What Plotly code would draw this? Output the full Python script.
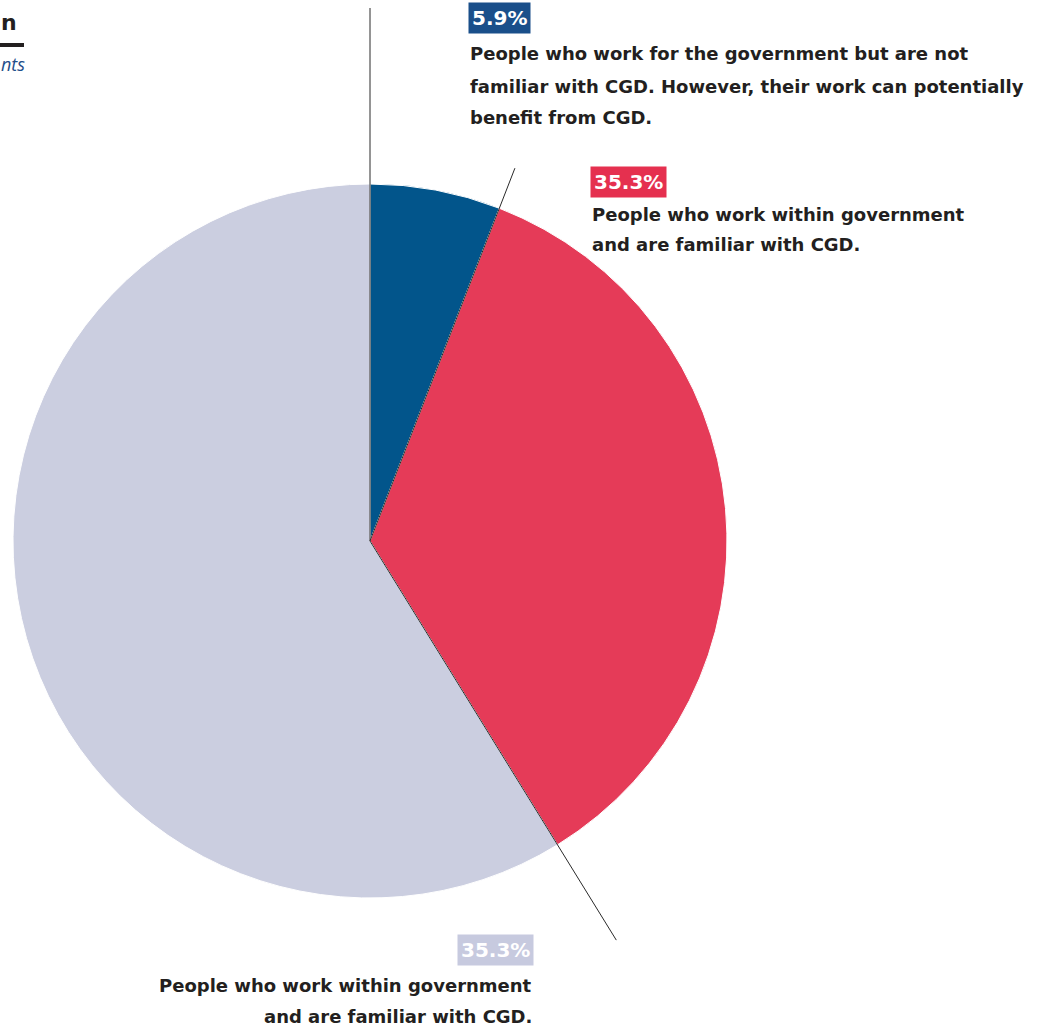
import math
import plotly.graph_objects as go

W, H = 1042, 1032

labels = ["Work for government, not familiar with CGD",
          "Work within government, familiar with CGD",
          "Work within government, familiar with CGD (2)"]
values = [5.9, 35.3, 58.8]
pct_labels = ["5.9%", "35.3%", "35.3%"]
colors = ["#02558b", "#e53b58", "#cbcee0"]
label_bg = ["#1a4f8a", "#e5304f", "#c7cadf"]
descriptions = [
    ["People who work for the government but are not",
     "familiar with CGD. However, their work can potentially",
     "benefit from CGD."],
    ["People who work within government",
     "and are familiar with CGD."],
    ["People who work within government",
     "and are familiar with CGD."],
]

FONT = "DejaVu Sans"
TXT = "#231f20"

def px(x):
    return x / W

def py(y):
    return 1 - y / H

# pie geometry (pixels)
cx, cy, r = 370, 541, 357

fig = go.Figure()
fig.add_trace(go.Pie(
    labels=labels, values=values, sort=False, direction="clockwise",
    rotation=0, textinfo="none", hoverinfo="label+value",
    marker=dict(colors=colors, line=dict(color="white", width=1)),
    domain=dict(x=[px(cx - r), px(cx + r)], y=[py(cy + r), py(cy - r)]),
    showlegend=False,
))

shapes = []
# leader lines from center along slice boundaries
total = sum(values)
lengths = [533, 400, 469]
cum = 0
for i, v in enumerate(values):
    ang = 2 * math.pi * cum / total
    L = lengths[i]
    ex = cx + L * math.sin(ang)
    ey = cy - L * math.cos(ang)
    shapes.append(dict(type="line", xref="paper", yref="paper",
                       x0=px(cx), y0=py(cy), x1=px(ex), y1=py(ey),
                       line=dict(color="#2a2a2a", width=1)))
    cum += v

# title fragment underline
shapes.append(dict(type="line", xref="paper", yref="paper",
                   x0=px(0), y0=py(45), x1=px(24), y1=py(45),
                   line=dict(color=TXT, width=4)))

annotations = []

def add_text(text, x, y, xanchor="left", size=18, color=TXT, bg=None,
             italic=False, weight="bold", family=FONT, pad=0):
    annotations.append(dict(
        text=text, x=px(x), y=py(y), xref="paper", yref="paper",
        xanchor=xanchor, yanchor="middle", showarrow=False,
        font=dict(family=family, size=size, color=color, weight=weight,
                  style="italic" if italic else "normal"),
        bgcolor=bg, borderpad=pad,
    ))

# block 1
add_text(pct_labels[0], 468, 18, bg=label_bg[0], color="white", size=20, pad=3)
for j, line in enumerate(descriptions[0]):
    add_text(line, 469, 54 + 32 * j)
# block 2
add_text(pct_labels[1], 590, 182, bg=label_bg[1], color="white", size=20, pad=3)
for j, line in enumerate(descriptions[1]):
    add_text(line, 591, 214 + 31 * j)
# block 3 (right aligned)
add_text(pct_labels[2], 534, 950, xanchor="right", bg=label_bg[2], color="white", size=20, pad=3)
for j, line in enumerate(descriptions[2]):
    add_text(line, 533, 985 + 31 * j, xanchor="right")

# title fragments at top-left (kept inside the canvas)
add_text("n", 0, 22, xanchor="left", size=22, color=TXT)
add_text("nts", 0, 64, xanchor="left", size=18, color="#1f4e8a",
         italic=True, weight="normal", family="Open Sans")

fig.update_layout(
    width=W, height=H,
    margin=dict(l=0, r=0, t=0, b=0),
    paper_bgcolor="white", plot_bgcolor="white",
    shapes=shapes, annotations=annotations,
)

fig.write_html("out.html")
